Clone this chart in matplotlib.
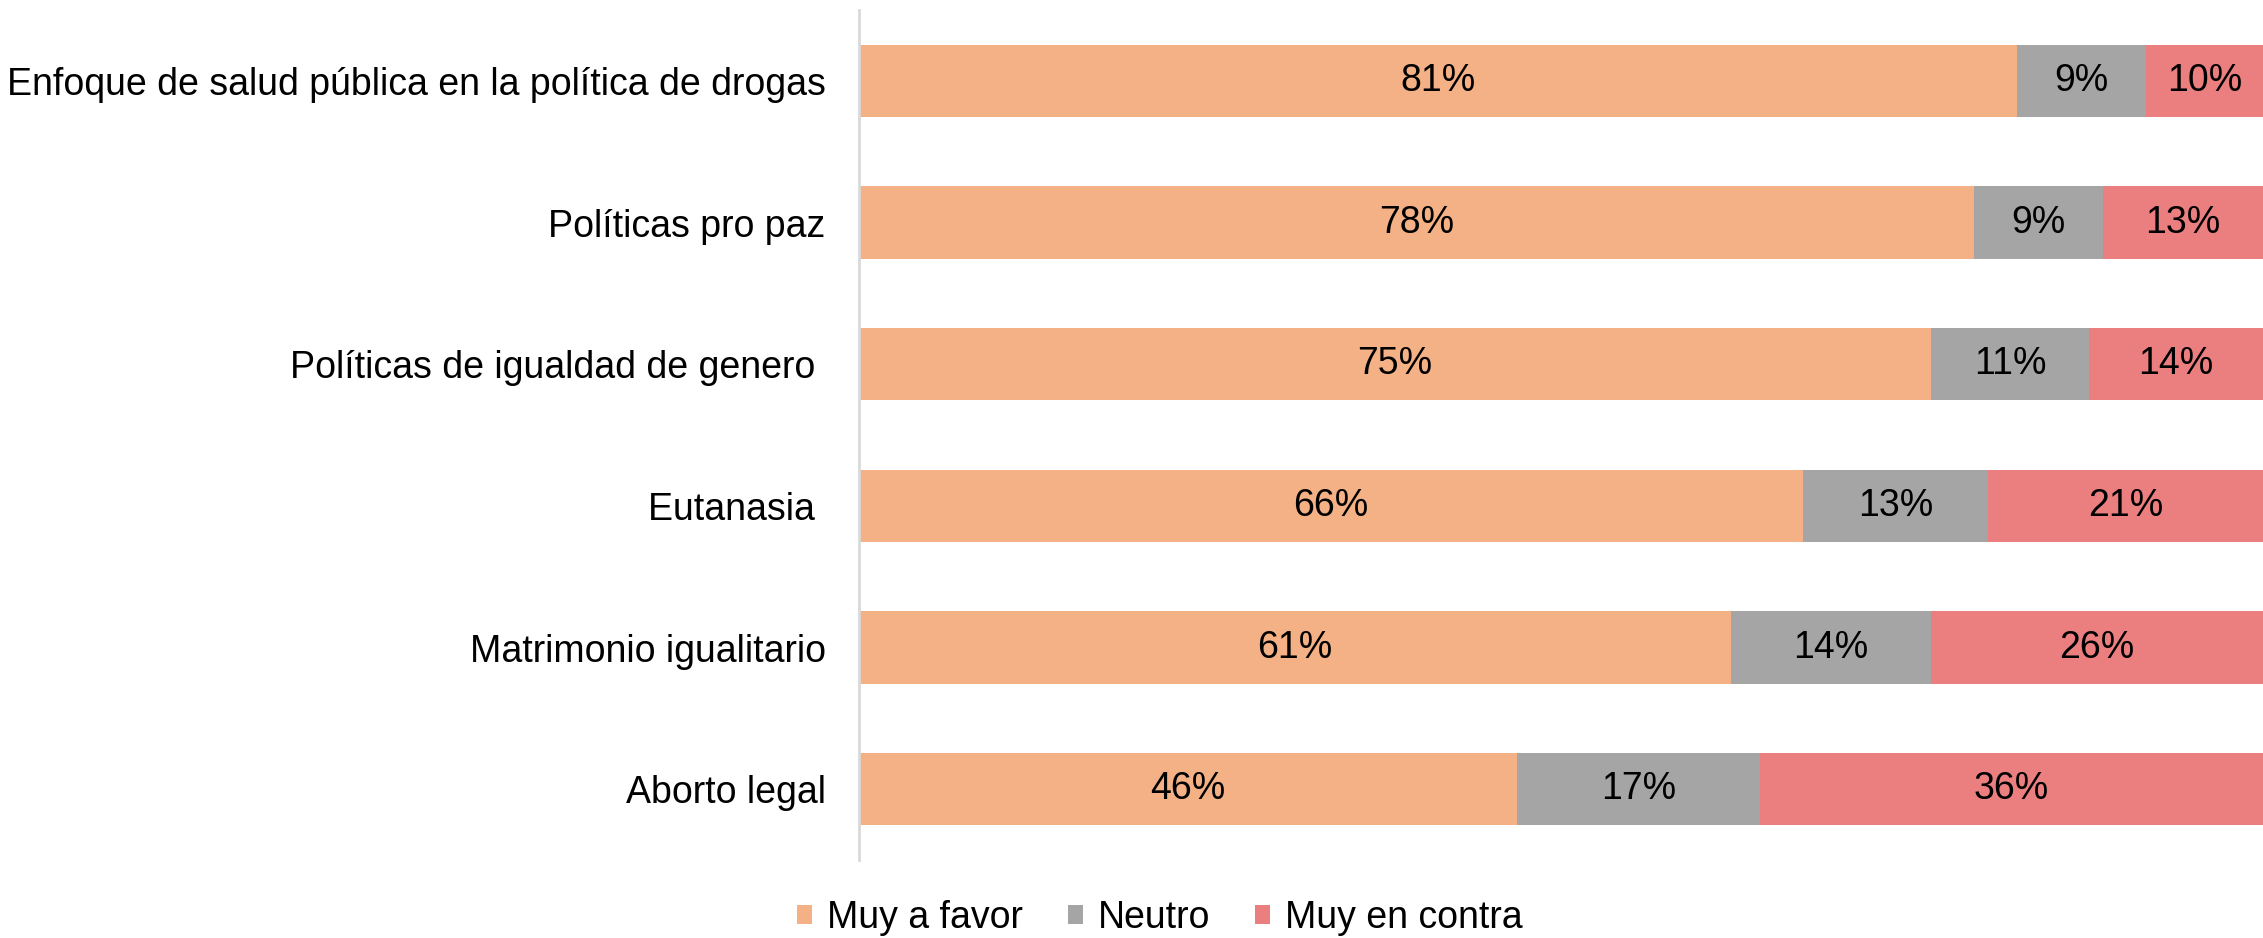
import matplotlib.pyplot as plt
import numpy as np

plt.rcParams['font.family'] = ['Liberation Sans', 'DejaVu Sans']

categories = [
    'Enfoque de salud pública en la política de drogas',
    'Políticas pro paz',
    'Políticas de igualdad de genero ',
    'Eutanasia ',
    'Matrimonio igualitario',
    'Aborto legal',
]
a_favor = [81, 78, 75, 66, 61, 46]
neutro = [9, 9, 11, 13, 14, 17]
en_contra = [10, 13, 14, 21, 26, 36]

series_labels = ['Muy a favor', 'Neutro', 'Muy en contra']
colors = ['#F3B185', '#A5A5A5', '#EB7F7F']

fig = plt.figure(figsize=(22.63, 9.38), dpi=100)
ax = fig.add_axes([859 / 2263, 78 / 938, 1 - 859 / 2263, 850 / 938])

y = np.arange(len(categories))
left = np.zeros(len(categories))
for vals, lab, col in zip([a_favor, neutro, en_contra], series_labels, colors):
    vals = np.array(vals, dtype=float)
    bars = ax.barh(y, vals, height=0.51, left=left, color=col, label=lab)
    ax.bar_label(bars, labels=['%d%%' % v for v in vals], label_type='center',
                 fontsize=27, color='black')
    left += vals

ax.set_xlim(0, 98.2)
ax.set_ylim(len(categories) - 0.5, -0.5)
ax.set_yticks(y)
ax.set_yticklabels(categories, fontsize=27)
ax.tick_params(axis='y', length=0, pad=24)
ax.set_xticks([])

for s in ['top', 'right', 'bottom']:
    ax.spines[s].set_visible(False)
ax.spines['left'].set_color('#D9D9D9')
ax.spines['left'].set_linewidth(2)

fig.legend(loc='center', bbox_to_anchor=(1160 / 2263, 1 - 918 / 938), ncol=3,
           frameon=False, fontsize=27, handlelength=0.4, handleheight=0.4,
           handletextpad=0.4, columnspacing=1.2)

fig.savefig('out.png', dpi=100)
